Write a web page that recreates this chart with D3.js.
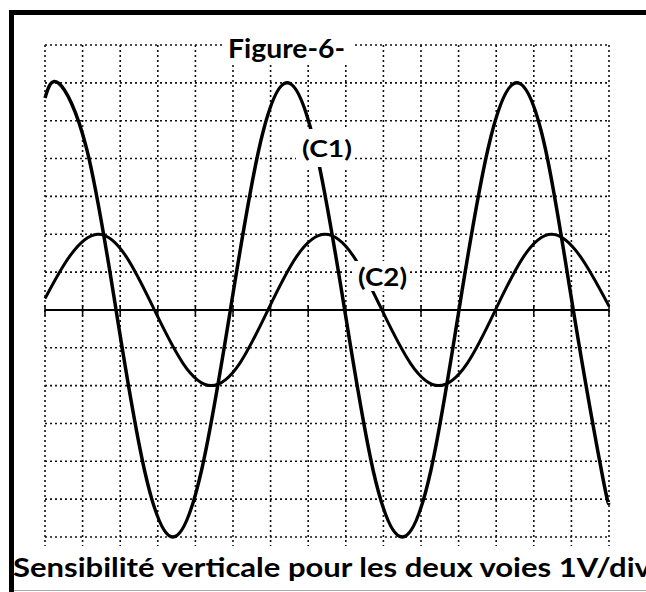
<!DOCTYPE html>
<html>
<head>
<meta charset="utf-8">
<script src="https://cdn.jsdelivr.net/npm/d3@7"></script>
<style>
  html, body { margin: 0; padding: 0; background: #fff; }
  svg { display: block; }
  text { font-family: "Lato", "Open Sans", sans-serif; font-weight: bold; fill: #000; }
</style>
</head>
<body>
<div id="chart"></div>
<script>
// Data (x in divisions, y in volts, 1V/div)
const xDivs = d3.range(0, 16);
const yDivs = d3.range(-6, 8);

const c1Time = [0, 0.35, 1.11, 1.89, 2.65, 3.40, 4.16, 4.93, 5.69, 6.44, 7.20, 7.97, 8.73, 9.50, 10.26, 11.01, 11.78, 12.55, 13.31, 14.05, 14.81, 15];
const c1Volt = [5.6, 6, 4.25, 0, -4.25, -6, -4.25, 0, 4.25, 6, 4.25, 0, -4.25, -6, -4.25, 0, 4.25, 6, 4.25, 0, -4.3, -5.1];

const c2Time = [0, 0.65, 1.40, 2.16, 2.91, 3.67, 4.42, 5.18, 5.93, 6.69, 7.45, 8.21, 8.96, 9.72, 10.47, 11.23, 11.98, 12.73, 13.48, 14.24, 15];
const c2Volt = [0.3, 1.41, 2, 1.41, 0, -1.41, -2, -1.41, 0, 1.41, 2, 1.41, 0, -1.41, -2, -1.41, 0, 1.41, 2, 1.41, 0.1];

const title = "Figure-6-";
const caption = "Sensibilité verticale pour les deux voies 1V/div";
const labelC1 = "(C1)";
const labelC2 = "(C2)";

let W = 646, H = 592;

let svg = d3.select("#chart")
  .append("svg")
    .attr("width", W)
    .attr("height", H);

svg.append("rect").attr("width", W).attr("height", H).attr("fill", "#fff");

let x = d3.scaleLinear().domain([0, 15]).range([45, 609]);
let y = d3.scaleLinear().domain([-6, 7]).range([537, 45]);

//Grid
let grid = svg.append("g");
grid.selectAll(".vline")
  .data(xDivs)
  .enter().append("line")
    .attr("x1", d => x(d)).attr("x2", d => x(d))
    .attr("y1", y(7)).attr("y2", y(-6) + 9)
    .attr("stroke", "#111")
    .attr("stroke-width", 1.6)
    .attr("stroke-dasharray", "2,3");
grid.selectAll(".hline")
  .data(yDivs.filter(d => d != 0))
  .enter().append("line")
    .attr("x1", x(0)).attr("x2", x(15))
    .attr("y1", d => y(d)).attr("y2", d => y(d))
    .attr("stroke", "#111")
    .attr("stroke-width", 1.6)
    .attr("stroke-dasharray", "2,3");

//Zero axis
svg.append("line")
  .attr("x1", x(0)).attr("x2", x(15))
  .attr("y1", y(0)).attr("y2", y(0))
  .attr("stroke", "#000")
  .attr("stroke-width", 2);
svg.selectAll(".tick0")
  .data(xDivs)
  .enter().append("line")
    .attr("x1", d => x(d)).attr("x2", d => x(d))
    .attr("y1", y(0) - 5).attr("y2", y(0) + 6)
    .attr("stroke", "#000")
    .attr("stroke-width", 1.5);

//Curves
let line = d3.line()
  .x(d => x(d[0]))
  .y(d => y(d[1]))
  .curve(d3.curveNatural);

svg.append("path")
  .datum(d3.zip(c2Time, c2Volt))
  .attr("fill", "none")
  .attr("stroke", "#000")
  .attr("stroke-width", 3)
  .attr("d", line);

svg.append("path")
  .datum(d3.zip(c1Time, c1Volt))
  .attr("fill", "none")
  .attr("stroke", "#000")
  .attr("stroke-width", 3.5)
  .attr("d", line);

//Labels with white boxes
function label(txt, bx, by, bw, bh, tx, ty, size, len) {
  svg.append("rect")
    .attr("x", bx).attr("y", by)
    .attr("width", bw).attr("height", bh)
    .attr("fill", "#fff");
  svg.append("text")
    .attr("x", tx).attr("y", ty)
    .attr("font-size", size)
    .attr("textLength", len)
    .attr("lengthAdjust", "spacingAndGlyphs")
    .text(txt);
}
label(title, 222, 30, 130, 34, 228, 58, 27, 117);
label(labelC1, 296, 129, 59, 38, 302, 157, 23, 50);
label(labelC2, 355, 261, 55, 30, 358, 286, 24, 49);

//Frame
svg.append("line")
  .attr("x1", 11.5).attr("x2", 11.5)
  .attr("y1", 10).attr("y2", H)
  .attr("stroke", "#000").attr("stroke-width", 5);
svg.append("line")
  .attr("x1", 9).attr("x2", W)
  .attr("y1", 12.5).attr("y2", 12.5)
  .attr("stroke", "#000").attr("stroke-width", 5);
svg.append("line")
  .attr("x1", 14).attr("x2", W)
  .attr("y1", 590.5).attr("y2", 590.5)
  .attr("stroke", "#aaa").attr("stroke-width", 1);

//Caption
svg.append("text")
  .attr("x", 13).attr("y", 577)
  .attr("font-size", 27)
  .attr("textLength", 638)
  .attr("lengthAdjust", "spacingAndGlyphs")
  .text(caption);
</script>
</body>
</html>
